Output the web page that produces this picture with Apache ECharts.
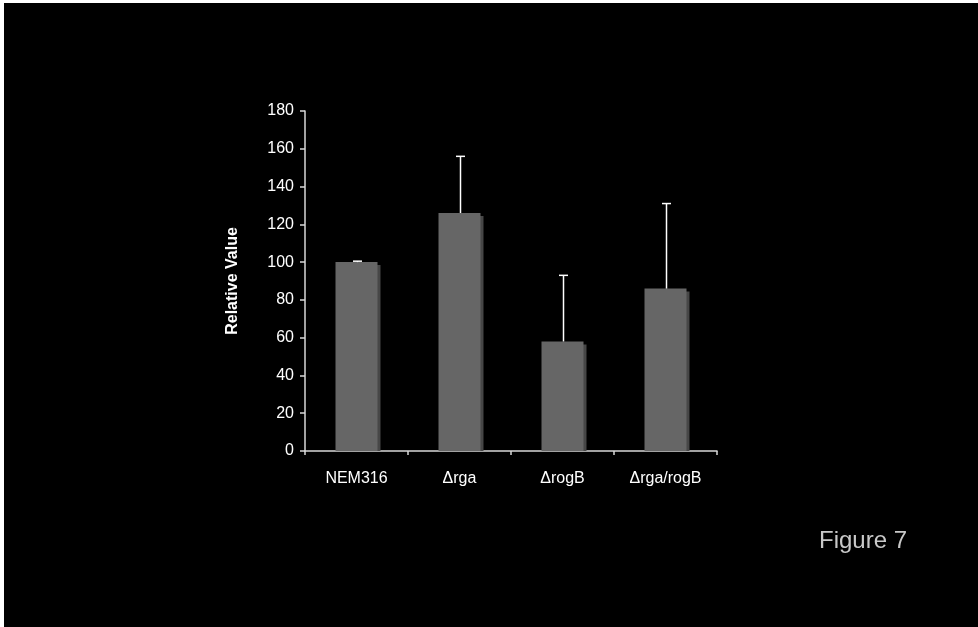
<!DOCTYPE html>
<html>
<head>
<meta charset="utf-8">
<script src="https://cdn.jsdelivr.net/npm/echarts@6/dist/echarts.min.js"></script>
<style>
html,body{margin:0;padding:0;background:#000;}
#chart{width:978px;height:627px;}
</style>
</head>
<body>
<div id="chart"></div>
<script>
var categories = ['NEM316', '\u0394rga', '\u0394rogB', '\u0394rga/rogB'];
var values = [100, 126, 58, 86];
var errorsUpper = [0.5, 30, 35, 45];
var yTicks = { min: 0, max: 180, interval: 20 };

var errorData = categories.map(function (c, i) { return [i, values[i], values[i] + errorsUpper[i]]; });
var shadowData = categories.map(function (c, i) { return [i, values[i]]; });

var chart = echarts.init(document.getElementById('chart'), null, { renderer: 'canvas' });
var font = 'Liberation Sans, Arial, sans-serif';
var BAR_W = 42;
chart.setOption({
  backgroundColor: '#000',
  animation: false,
  grid: { left: 305, right: 261, top: 111, bottom: 176, containLabel: false },
  xAxis: {
    type: 'category',
    data: categories,
    axisLine: { show: true, lineStyle: { color: '#d8d8d8', width: 1.5 } },
    axisTick: { show: true, length: 4, lineStyle: { color: '#d8d8d8', width: 1.5 } },
    axisLabel: { color: '#ffffff', fontSize: 16, fontFamily: font, margin: 20 },
    splitLine: { show: false }
  },
  yAxis: {
    type: 'value',
    min: yTicks.min, max: yTicks.max, interval: yTicks.interval,
    name: 'Relative Value',
    nameLocation: 'middle',
    nameGap: 64,
    nameTextStyle: { color: '#ffffff', fontSize: 16, fontWeight: 'bold', fontFamily: font },
    axisLine: { show: true, lineStyle: { color: '#d8d8d8', width: 1.5 } },
    axisTick: { show: true, length: 5, lineStyle: { color: '#d8d8d8', width: 1.5 } },
    axisLabel: { color: '#ffffff', fontSize: 16, fontFamily: font, margin: 11 },
    splitLine: { show: false }
  },
  series: [
    {
      type: 'custom',
      z: 1,
      data: shadowData,
      renderItem: function (params, api) {
        var p = api.coord([api.value(0), api.value(1)]);
        var b = api.coord([api.value(0), 0]);
        return {
          type: 'rect',
          shape: { x: p[0] - BAR_W / 2 + 3, y: p[1] + 3, width: BAR_W, height: b[1] - p[1] - 3 },
          style: { fill: '#474747' }
        };
      }
    },
    {
      type: 'bar',
      data: values,
      barWidth: BAR_W,
      z: 2,
      itemStyle: { color: '#666666' }
    },
    {
      type: 'custom',
      z: 3,
      data: errorData,
      renderItem: function (params, api) {
        var x = api.value(0);
        var base = api.coord([x, api.value(1)]);
        var top = api.coord([x, api.value(2)]);
        var cx = base[0] + 1;
        var cap = 4.5;
        var style = { stroke: '#ffffff', lineWidth: 1.5 };
        return {
          type: 'group',
          children: [
            { type: 'line', shape: { x1: cx, y1: base[1], x2: cx, y2: top[1] }, style: style },
            { type: 'line', shape: { x1: cx - cap, y1: top[1], x2: cx + cap, y2: top[1] }, style: style }
          ]
        };
      }
    }
  ],
  graphic: [
    { type: 'rect', left: 0, top: 0, shape: { width: 978, height: 3 }, style: { fill: '#ffffff' } },
    { type: 'rect', left: 0, top: 0, shape: { width: 4, height: 627 }, style: { fill: '#ffffff' } },
    { type: 'text', left: 819, top: 529, style: { text: 'Figure 7', fill: '#c8c8c8', fontSize: 24, fontFamily: font } }
  ]
});
</script>
</body>
</html>
